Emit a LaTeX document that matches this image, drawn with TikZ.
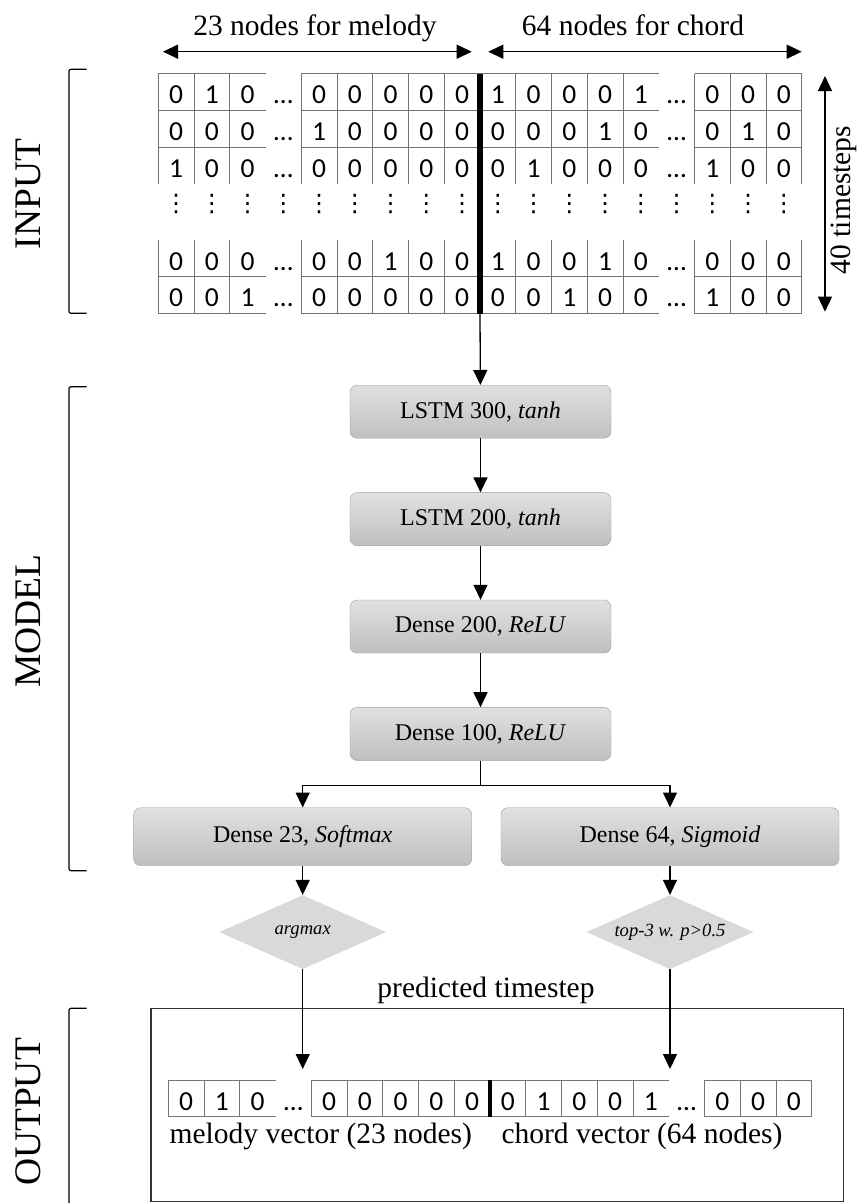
\documentclass[tikz,border=0pt]{standalone}
\usepackage{fontspec}
\setmainfont{Liberation Serif}
\newfontfamily\bitfont{Carlito}
\newfontfamily\dotfont{DejaVu Sans}
\usetikzlibrary{positioning}
\usetikzlibrary{arrows.meta}
\usetikzlibrary{shapes.geometric}

\begin{document}
\begin{tikzpicture}[x=1pt,y=-1pt,node distance=54pt,
    layer/.style={draw=black!38, top color=black!12, bottom color=black!25, rounded corners=7pt,
      minimum width=261pt, minimum height=53pt, inner sep=0pt, font=\fontsize{24}{28}\selectfont},
    wide/.style={minimum width=338pt, minimum height=58pt},
    decide/.style={diamond, aspect=2.25, fill=black!15, minimum width=167pt, minimum height=74pt, inner sep=0pt,
      font=\fontsize{18.6}{22}\selectfont\itshape},
    bit/.style={font=\fontsize{27.5}{30}\bitfont, inner sep=0pt, anchor=base},
    cell/.style={draw=black!55, line width=1pt},
    big/.style={font=\fontsize{29.5}{34}\selectfont, inner sep=0pt},
    side/.style={font=\fontsize{37.5}{42}\selectfont, rotate=90, inner sep=0pt},
    flow/.style={-{Triangle[length=15pt,width=14pt]}, line width=1.3pt},
    span/.style={{Triangle[length=15pt,width=14pt]}-{Triangle[length=15pt,width=14pt]}, line width=1.3pt},
    bracket/.style={line width=1.2pt, rounded corners=2pt}]
    \useasboundingbox (0,0) rectangle (861,1203);

    % input header
    \node[big, anchor=base] (mellab) at (315,35) {23 nodes for melody};
    \node[big, anchor=base] (chdlab) at (633,35) {64 nodes for chord};
    \coordinate (melL) at (163,51.7);
    \coordinate (melR) at (471.7,51.7);
    \coordinate (chdL) at (488.3,51.7);
    \coordinate (chdR) at (801.7,51.7);
    \draw[span] (melL) -- (melR);
    \draw[span] (chdL) -- (chdR);

    \coordinate (tTop) at (825,76);
    \coordinate (tBot) at (825,311.7);
    \draw[span] (tTop) -- (tBot);
    \node[big, rotate=90] (tlab) at (844,200) {40 timesteps};

    % input grid
    \foreach \y in {73.5,110.3,147.1,276.8,313.6}
        \draw[cell] (158.25,\y) -- ++(107.25,0) (301.25,\y) -- ++(357.5,0) (694.5,\y) -- ++(107.25,0);
    \foreach \k in {0,1,2,4,5,6,7,8,10,11,12,13,15,16,17,18}
        \draw[cell] ({158.25+35.75*\k},73.5) -- ++(0,110.4) ({158.25+35.75*\k},240) -- ++(0,73.6);
    \draw[line width=6pt] (480,73.5) -- (480,313.6);
    \coordinate (barEnd) at (480,313.6);

    \foreach \vals [count=\r from 0] in {
        {0,1,0,…,0,0,0,0,0,1,0,0,0,1,…,0,0,0},
        {0,0,0,…,1,0,0,0,0,0,0,0,1,0,…,0,1,0},
        {1,0,0,…,0,0,0,0,0,0,1,0,0,0,…,1,0,0},
        {0,0,0,…,0,0,1,0,0,1,0,0,1,0,…,0,0,0},
        {0,0,1,…,0,0,0,0,0,0,0,1,0,0,…,1,0,0}}
    {
        \pgfmathsetmacro\yb{ifthenelse(\r<3,103.5+36.8*\r,270+36.8*(\r-3))}
        \foreach \v [count=\k from 0] in \vals
            \node[bit] (g\r-\k) at ({158.25+35.75*(\k+0.5)},\yb) {\v};
    }
    \foreach \k in {0,...,17}
        \node[font=\fontsize{24}{28}\dotfont, inner sep=0pt] (dots-\k) at ({158.25+35.75*(\k+0.5)},204) {⋮};

    % model
    \node[layer] (lstmA) at (480.5,411.7) {LSTM 300, \textit{tanh}};
    \node[layer, below=of lstmA] (lstmB) {LSTM 200, \textit{tanh}};
    \node[layer, below=of lstmB] (denseA) {Dense 200, \textit{ReLU}};
    \node[layer, below=of denseA] (denseB) {Dense 100, \textit{ReLU}};
    \node[layer, wide] (densM) at (302.7,836.7) {Dense 23, \textit{Softmax}};
    \node[layer, wide] (densC) at (670,836.7) {Dense 64, \textit{Sigmoid}};
    \node[decide, below=29pt of densM] (amax) {argmax};
    \node[decide, below=29pt of densC] (topk) {top-3 w. p>0.5};

    \draw[flow] (barEnd) -- (lstmA);
    \draw[flow] (lstmA) -- (lstmB);
    \draw[flow] (lstmB) -- (denseA);
    \draw[flow] (denseA) -- (denseB);
    \draw[flow] (denseB.south) -- ++(0,25) -| (densM.north);
    \draw[flow] (denseB.south) -- ++(0,25) -| (densC.north);
    \draw[flow] (densM) -- (amax);
    \draw[flow] (densC) -- (topk);

    % output
    \node[draw=black!80, line width=1.2pt, minimum width=692.3pt, minimum height=193.4pt, inner sep=0pt] (outbox) at (497.15,1105) {};
    \node[big, anchor=base] (predlab) at (486,997) {predicted timestep};
    \coordinate (melIn) at (302.7,1069);
    \coordinate (chdIn) at (670,1069);
    \draw[flow] (amax) -- (melIn);
    \draw[flow] (topk) -- (chdIn);

    \foreach \y in {1080,1116.7}
        \draw[cell] (168.25,\y) -- ++(107.25,0) (311.25,\y) -- ++(357.5,0) (704.5,\y) -- ++(107.25,0);
    \foreach \k in {0,1,2,4,5,6,7,8,10,11,12,13,15,16,17,18}
        \draw[cell] ({168.25+35.75*\k},1080) -- ++(0,36.7);
    \draw[line width=4pt] (490,1080) -- (490,1116.7);
    \foreach \v [count=\k from 0] in {0,1,0,…,0,0,0,0,0,0,1,0,0,1,…,0,0,0}
        \node[bit] (o-\k) at ({168.25+35.75*(\k+0.5)},1110) {\v};
    \node[big, anchor=base] (mvec) at (320.8,1143) {melody vector (23 nodes)};
    \node[big, anchor=base] (cvec) at (642,1143) {chord vector (64 nodes)};

    % brackets
    \draw[bracket] (86.7,69.3) -- (69,69.3) -- (69,313.3) -- (86.7,313.3);
    \draw[bracket] (86.7,386.7) -- (69,386.7) -- (69,870.7) -- (86.7,870.7);
    \draw[bracket] (86.7,1008.3) -- (69,1008.3) -- (69,1203);
    \node[side] (inlab) at (28.3,194) {INPUT};
    \node[side] (modlab) at (28.3,621) {MODEL};
    \node[side] (outlab) at (28.3,1112) {OUTPUT};
\end{tikzpicture}
\end{document}
